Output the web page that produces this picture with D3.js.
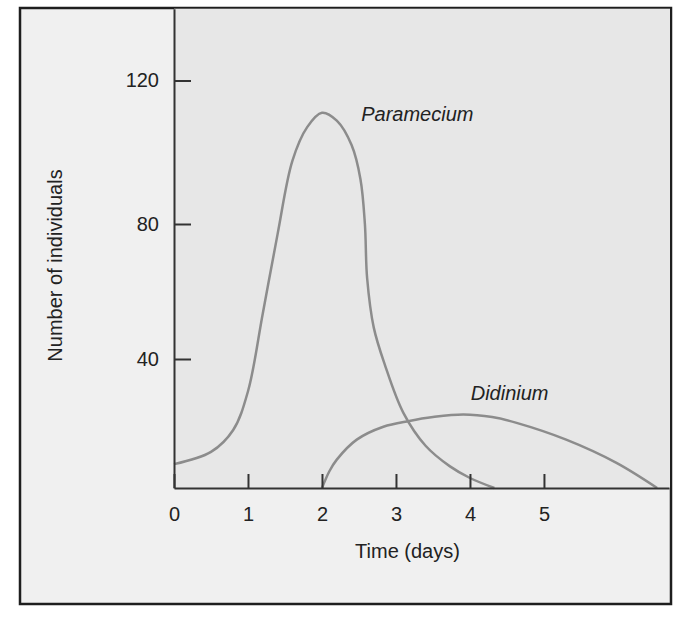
<!DOCTYPE html>
<html>
<head>
<meta charset="utf-8">
<script src="https://cdn.jsdelivr.net/npm/d3@7"></script>
<style>
  body { margin: 0; background: #fff; }
  text { font-family: "Liberation Sans", Arial, sans-serif; fill: #222; }
</style>
</head>
<body>
<svg id="chart"></svg>
<script>
// values
const parameciumDays  = [0, 0.5, 0.8, 1.0, 1.2, 1.4, 1.6, 1.8, 2.0, 2.2, 2.4, 2.52, 2.58, 2.61, 2.7, 2.85, 3.1, 3.4, 3.73, 4.0, 4.33];
const parameciumCount = [7.4, 11.2, 18, 30, 53.5, 77, 97.6, 107, 111, 108.8, 102, 92.5, 80, 64, 49.3, 38.2, 23.3, 13.1, 6.7, 3.1, 0];
const didiniumDays  = [2.0, 2.1, 2.2, 2.47, 2.83, 3.18, 3.5, 3.91, 4.3, 4.63, 5.3, 5.98, 6.53];
const didiniumCount = [0, 5.2, 8.8, 15, 19.0, 20.8, 22.0, 22.8, 22, 20.2, 15, 7.8, 0];
const xTicks = [0, 1, 2, 3, 4, 5];
const yTicks = [40, 80, 120];

const width = 682;
const height = 622;

const svg = d3.select('#chart')
  .attr('width', width)
  .attr('height', height);

// the printed axis is not quite evenly spaced, so map through the tick positions
const x = d3.scaleLinear().domain([0, 6.69]).range([174, 669]);
const y = d3.scaleLinear().domain([0, 40, 80, 120, 140]).range([488, 359, 224, 80.5, 8.7]);

// outer panel
svg.append('rect')
  .attr('x', 20).attr('y', 8)
  .attr('width', 651).attr('height', 596)
  .attr('fill', '#f0f0f0')
  .attr('stroke', '#1e1e1e')
  .attr('stroke-width', 2.5);

// plot area
svg.append('rect')
  .attr('x', x(0)).attr('y', y(140))
  .attr('width', x(6.69) - x(0) + 1)
  .attr('height', y(0) - y(140))
  .attr('fill', '#e7e7e7');

const line = d3.line()
  .x(d => x(d[0]))
  .y(d => y(d[1]))
  .curve(d3.curveCatmullRom.alpha(0.5));

const series = [
  d3.zip(parameciumDays, parameciumCount),
  d3.zip(didiniumDays, didiniumCount)
];

svg.selectAll('path.curve')
  .data(series)
  .enter()
  .append('path')
  .attr('class', 'curve')
  .attr('d', line)
  .attr('fill', 'none')
  .attr('stroke', '#8c8c8c')
  .attr('stroke-width', 2.5);

// axes
const yAxis = svg.append('g')
  .attr('transform', `translate(${x(0)},0)`)
  .call(d3.axisLeft(y).tickValues(yTicks).tickSizeInner(-17).tickSizeOuter(0).tickPadding(15));

const xAxis = svg.append('g')
  .attr('transform', `translate(0,${y(0)})`)
  .call(d3.axisBottom(x).tickValues(xTicks).tickSizeInner(-14).tickSizeOuter(0).tickPadding(19).tickFormat(d3.format('d')));

[xAxis, yAxis].forEach(g => {
  g.attr('font-family', null).attr('font-size', null);
  g.select('.domain').attr('stroke', '#333').attr('stroke-width', 2);
  g.selectAll('.tick line').attr('stroke', '#333').attr('stroke-width', 2);
  g.selectAll('.tick text')
    .attr('font-size', 20)
    .attr('fill', '#222');
});

// axis titles
svg.append('text')
  .attr('x', 407.5).attr('y', 558)
  .attr('text-anchor', 'middle')
  .attr('font-size', 20)
  .text('Time (days)');

svg.append('text')
  .attr('transform', 'translate(62,265.5) rotate(-90)')
  .attr('text-anchor', 'middle')
  .attr('font-size', 20)
  .text('Number of individuals');

// series labels
svg.append('text')
  .attr('x', x(2.53)).attr('y', y(108.7))
  .attr('font-size', 20)
  .attr('font-style', 'italic')
  .text('Paramecium');

svg.append('text')
  .attr('x', x(4.01)).attr('y', y(27.2))
  .attr('font-size', 20)
  .attr('font-style', 'italic')
  .text('Didinium');
</script>
</body>
</html>
